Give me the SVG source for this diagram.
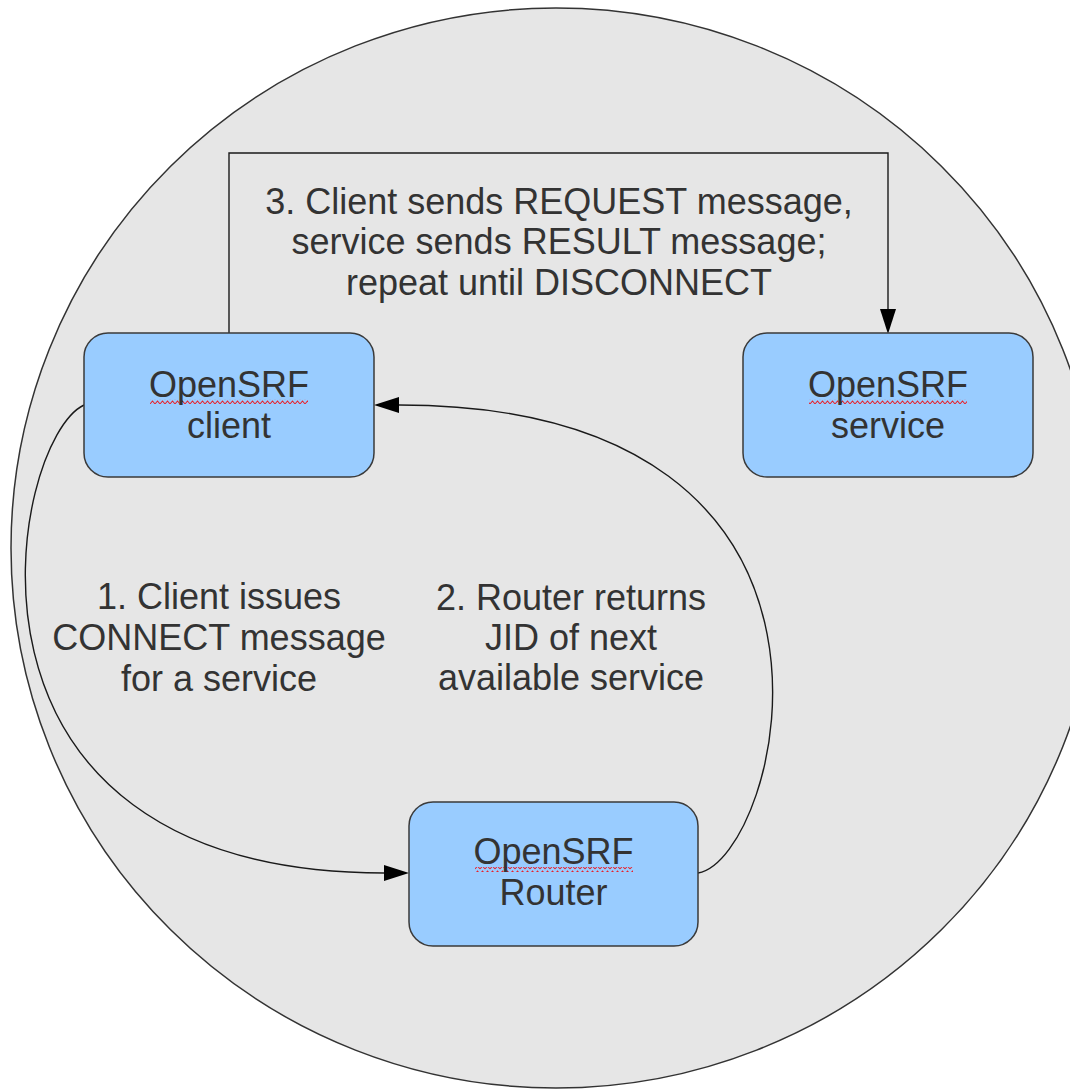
<svg xmlns="http://www.w3.org/2000/svg" width="1070" height="1089" viewBox="0 0 1070 1089">
  <style>
    .node rect.box { fill: #99ccff; stroke: #3a3a3a; stroke-width: 1.5; }
    .lbl { font-family: "Liberation Sans", Arial, sans-serif; font-size: 36px; fill: #333333; text-anchor: middle; }
    .conn { fill: none; stroke: #1a1a1a; stroke-width: 1.4; }
    .wave { fill: url(#wave); }
  </style>
  <defs>
    <marker id="arrow" markerUnits="userSpaceOnUse" markerWidth="26" markerHeight="18" viewBox="0 -9 26 18" refX="0" refY="0" orient="auto">
      <path d="M0,-8 L25,0 L0,8 Z" fill="#000000"/>
    </marker>
    <pattern id="wave" patternUnits="userSpaceOnUse" width="5" height="5">
      <path d="M0,4 L2.5,1 L5,4" fill="none" stroke="#e8202a" stroke-width="1.1"/>
    </pattern>
  </defs>

  <rect x="0" y="0" width="1070" height="1089" fill="#ffffff"/>

  <g id="boundary">
    <ellipse cx="556" cy="548" rx="545" ry="540" fill="#e6e6e6" stroke="#333333" stroke-width="1.5"/>
  </g>

  <g id="connectors">
    <path class="conn" d="M84,405 C10,440 -75,873 384,873" marker-end="url(#arrow)"/>
    <path class="conn" d="M698,873 C780,860 900,405 399,405" marker-end="url(#arrow)"/>
    <path class="conn" d="M229,333 V153 H888 V309" stroke="#4a4a4a" marker-end="url(#arrow)"/>
  </g>

  <g id="node-client" class="node">
    <rect class="box" x="84" y="333" width="290" height="144" rx="24" ry="24"/>
    <rect class="wave" x="150" y="399" width="158" height="5"/>
    <text class="lbl" x="229" y="397">OpenSRF</text>
    <text class="lbl" x="229" y="438">client</text>
  </g>

  <g id="node-service" class="node">
    <rect class="box" x="743" y="333" width="290" height="144" rx="24" ry="24"/>
    <rect class="wave" x="809" y="399" width="158" height="5"/>
    <text class="lbl" x="888" y="397">OpenSRF</text>
    <text class="lbl" x="888" y="438">service</text>
  </g>

  <g id="node-router" class="node">
    <rect class="box" x="409" y="802" width="289" height="144" rx="24" ry="24"/>
    <rect class="wave" x="475" y="867" width="158" height="5"/>
    <text class="lbl" x="553.5" y="864">OpenSRF</text>
    <text class="lbl" x="553.5" y="905">Router</text>
  </g>

  <g id="labels">
    <text class="lbl" x="559" y="214">3. Client sends REQUEST message,</text>
    <text class="lbl" x="559" y="254">service sends RESULT message;</text>
    <text class="lbl" x="559" y="295">repeat until DISCONNECT</text>
    <text class="lbl" x="219" y="609">1. Client issues</text>
    <text class="lbl" x="219" y="650">CONNECT message</text>
    <text class="lbl" x="219" y="691">for a service</text>
    <text class="lbl" x="571" y="610">2. Router returns</text>
    <text class="lbl" x="571" y="650">JID of next</text>
    <text class="lbl" x="571" y="690">available service</text>
  </g>
</svg>
